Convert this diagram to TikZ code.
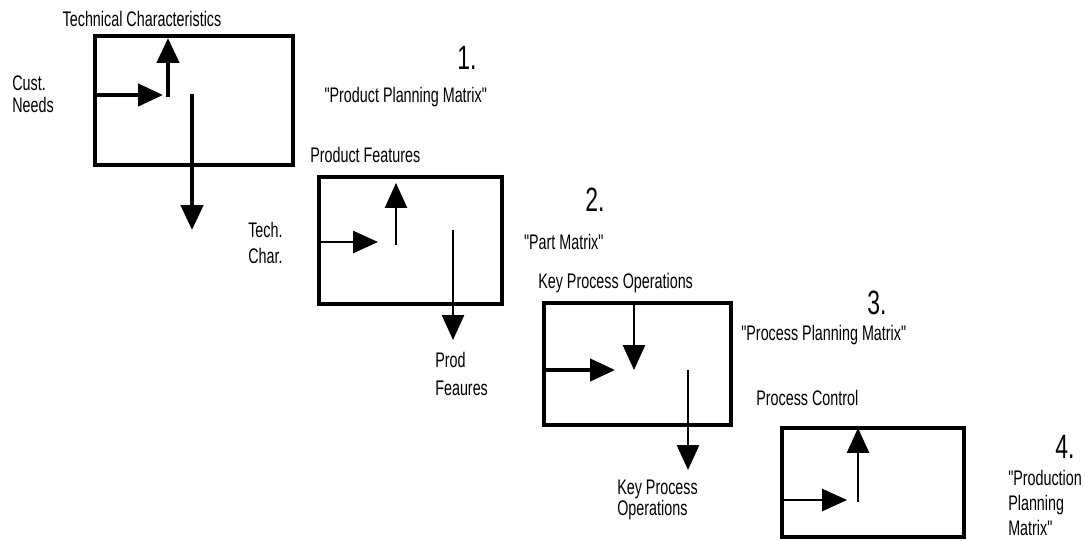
\documentclass[tikz,border=0pt]{standalone}
\usepackage{fontspec}
\setmainfont[FakeStretch=0.68]{Liberation Sans}
\usepackage{tikz}
\usetikzlibrary{arrows.meta,positioning,calc}

\newcommand{\dquote}{\textquotedbl}
\newcommand{\openq}{\textquotedbl\kern-0.12em}
\tikzset{
  matbox/.style={draw, line width=2.8pt, inner sep=0pt, anchor=north west},
  flow/.style={line width=1.6pt, -{Triangle[length=0.62cm,width=0.55cm]}},
  thickflow/.style={flow, line width=2.8pt},
  lbl/.style={font=\fontsize{15}{17}\selectfont, inner sep=0pt, align=left},
  stepnum/.style={font=\fontsize{24}{26}\selectfont, inner sep=0pt}
}

\begin{document}
\begin{tikzpicture}[x=0.025cm, y=-0.025cm]
    \useasboundingbox (0,0) rectangle (1085,540);
    % 1. product planning
    \node[matbox, minimum width=4.95cm, minimum height=3.225cm] (pp) at (93,34) {};
    \node[lbl] (ppTop) at (142,19) {Technical Characteristics};
    \node[lbl, anchor=west, font=\fontsize{15}{16}\selectfont] (ppIn) at (12,94) {Cust.\\Needs};
    \coordinate (ppA) at (93,95);
    \coordinate (ppB) at (163,95);
    \coordinate (ppC) at (168,97);
    \coordinate (ppD) at (168,38);
    \coordinate (ppE) at (192,94);
    \coordinate (ppF) at (192,230);
    \draw[thickflow] (ppA) -- (ppB);
    \draw[thickflow] (ppC) -- (ppD);
    \draw[thickflow] (ppE) -- (ppF);
    \node[stepnum] (n1) at (467,58) {1.};
    \node[lbl] (t1) at (407,97) {\openq Product Planning Matrix\dquote};
    % 2. part matrix
    \node[matbox, minimum width=4.575cm, minimum height=3.175cm] (pm) at (317,175) {};
    \node[lbl, anchor=west] (pmTop) at (310,155) {Product Features};
    \node[lbl, anchor=west, font=\fontsize{15}{18}\selectfont] (pmIn) at (248,243) {Tech.\\Char.};
    \coordinate (pmA) at (317,242);
    \coordinate (pmB) at (378,242);
    \coordinate (pmC) at (396,245);
    \coordinate (pmD) at (396,183);
    \coordinate (pmE) at (453,230);
    \coordinate (pmF) at (453,340);
    \draw[flow] (pmA) -- (pmB);
    \draw[flow] (pmC) -- (pmD);
    \draw[flow] (pmE) -- (pmF);
    \node[lbl, anchor=west, font=\fontsize{15}{20}\selectfont] (pmOut) at (435,374) {Prod\\Feaures};
    \node[stepnum] (n2) at (595,200) {2.};
    \node[lbl] (t2) at (565,242) {\openq Part Matrix\dquote};
    % 3. process planning
    \node[matbox, minimum width=4.675cm, minimum height=3.05cm] (ppm) at (542,301) {};
    \node[lbl, anchor=west] (ppmTop) at (538,283) {Key Process Operations};
    \coordinate (ppmA) at (542,370);
    \coordinate (ppmB) at (615,370);
    \coordinate (ppmC) at (634,302);
    \coordinate (ppmD) at (634,370);
    \coordinate (ppmE) at (688,370);
    \coordinate (ppmF) at (688,470);
    \draw[thickflow] (ppmA) -- (ppmB);
    \draw[flow] (ppmC) -- (ppmD);
    \draw[flow] (ppmE) -- (ppmF);
    \node[lbl, anchor=west, font=\fontsize{15}{15}\selectfont] (ppmOut) at (617,500) {Key Process\\Operations};
    \node[stepnum] (n3) at (877,303) {3.};
    \node[lbl] (t3) at (825,335) {\openq Process Planning Matrix\dquote};
    % 4. production planning
    \node[matbox, minimum width=4.55cm, minimum height=2.725cm] (prm) at (780,426) {};
    \node[lbl, anchor=west] (prmTop) at (756,398) {Process Control};
    \coordinate (prmA) at (780,500);
    \coordinate (prmB) at (847,500);
    \coordinate (prmC) at (858,502);
    \coordinate (prmD) at (858,428);
    \draw[flow] (prmA) -- (prmB);
    \draw[flow] (prmC) -- (prmD);
    \node[stepnum] (n4) at (1065,447) {4.};
    \node[lbl, anchor=west, font=\fontsize{15}{18}\selectfont] (t4) at (1008,503) {\openq Production\\Planning\\Matrix\dquote};
\end{tikzpicture}
\end{document}
